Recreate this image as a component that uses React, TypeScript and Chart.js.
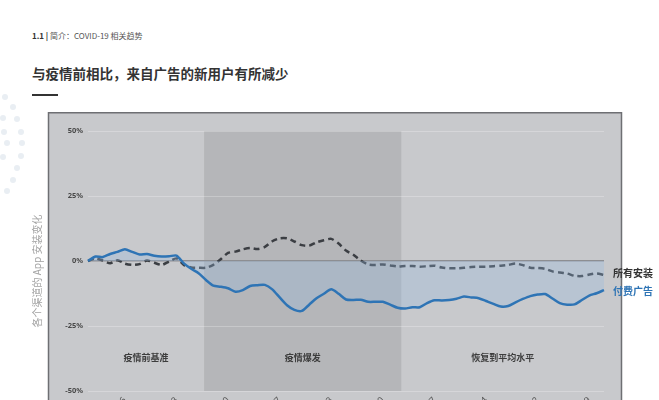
import { useEffect, useRef } from "react";
import Chart from "chart.js/auto";

// daily categories, ticks shown once a week
const categories = [
  "2020-01-01", "2020-01-02", "2020-01-03", "2020-01-04", "2020-01-05", "2020-01-06", "2020-01-07",
  "2020-01-08", "2020-01-09", "2020-01-10", "2020-01-11", "2020-01-12", "2020-01-13", "2020-01-14",
  "2020-01-15", "2020-01-16", "2020-01-17", "2020-01-18", "2020-01-19", "2020-01-20", "2020-01-21",
  "2020-01-22", "2020-01-23", "2020-01-24", "2020-01-25", "2020-01-26", "2020-01-27", "2020-01-28",
  "2020-01-29", "2020-01-30", "2020-01-31", "2020-02-01", "2020-02-02", "2020-02-03", "2020-02-04",
  "2020-02-05", "2020-02-06", "2020-02-07", "2020-02-08", "2020-02-09", "2020-02-10", "2020-02-11",
  "2020-02-12", "2020-02-13", "2020-02-14", "2020-02-15", "2020-02-16", "2020-02-17", "2020-02-18",
  "2020-02-19", "2020-02-20", "2020-02-21", "2020-02-22", "2020-02-23", "2020-02-24", "2020-02-25",
  "2020-02-26", "2020-02-27", "2020-02-28", "2020-02-29", "2020-03-01", "2020-03-02", "2020-03-03",
  "2020-03-04", "2020-03-05", "2020-03-06", "2020-03-07", "2020-03-08", "2020-03-09", "2020-03-10",
  "2020-03-11",
];
const tickLabels = [
  "2020-01-06", "2020-01-13", "2020-01-20", "2020-01-27", "2020-02-03",
  "2020-02-10", "2020-02-17", "2020-02-24", "2020-03-02", "2020-03-09",
];

const allInstalls = [
  0, 1.0, 0.2, -0.9, 0.3, -1.0, -1.5, -1.2, 0.2, -0.7,
  -1.5, -0.2, 1.0, -1.5, -2.5, -2.6, -2.6, -1.5, 0.7, 3.1,
  3.6, 4.5, 5.0, 4.6, 5.4, 7.6, 8.7, 8.7, 7.5, 6.1,
  5.9, 7.2, 8.0, 8.5, 6.7, 4.0, 2.4, 0.2, -1.3, -1.5,
  -1.3, -1.7, -2.1, -1.9, -1.9, -2.2, -2.0, -1.8, -2.5, -2.8,
  -2.8, -2.6, -2.3, -2.2, -2.2, -2.0, -1.8, -1.5, -1.0, -1.6,
  -2.6, -2.7, -3.0, -4.0, -4.4, -4.8, -5.7, -5.8, -5.2, -4.8,
  -5.4,
];
const paidAds = [
  0, 1.7, 1.5, 2.7, 3.5, 4.5, 3.5, 2.5, 2.7, 2.0,
  1.7, 1.8, 2.1, -0.9, -3.0, -4.7, -7.3, -9.5, -9.9, -10.5,
  -11.8, -11.2, -9.6, -9.3, -9.2, -10.9, -14.0, -17.0, -18.8, -19.2,
  -16.8, -14.3, -12.6, -10.9, -12.6, -14.8, -15.0, -14.9, -15.7, -15.7,
  -15.7, -16.8, -18.0, -18.3, -17.8, -17.8, -16.2, -15.1, -15.2, -15.0,
  -14.5, -13.7, -14.0, -14.3, -15.4, -16.5, -17.5, -17.3, -15.9, -14.6,
  -13.5, -12.9, -12.7, -14.4, -16.2, -16.8, -16.7, -15.0, -13.3, -12.4,
  -11.2,
];

const seriesNames = ["所有安装", "付费广告"];
const phaseNames = ["疫情前基准", "疫情爆发", "恢复到平均水平"];
// phase edges in category index units
const phaseEdges = [0, 15.75, 42.5, 70];
const phaseLabelValue = -37.3;
const yTitle = "各个渠道的 App 安装变化";

const BLUE = "#2e74b5";
const DARK = "#3b3e43";

const dots = [
  [5, 97], [13, 107], [3, 118], [17, 119], [4, 132], [21, 132], [7, 143],
  [22, 143], [3, 157], [21, 156], [17, 168], [13, 180], [7, 191],
];

const panelPlugin = {
  id: "panel",
  beforeDraw(chart: any) {
    const { ctx, chartArea, scales } = chart;
    const x = scales.x;
    ctx.save();
    ctx.fillStyle = "#c8c9cc";
    ctx.fillRect(48, 0, 574, chart.height);
    ctx.strokeStyle = "#6e6f73";
    ctx.lineWidth = 1.5;
    ctx.beginPath();
    ctx.moveTo(48.5, chart.height);
    ctx.lineTo(48.5, 0.75);
    ctx.lineTo(621.5, 0.75);
    ctx.lineTo(621.5, chart.height);
    ctx.stroke();

    // outbreak band
    const x0 = x.getPixelForValue(phaseEdges[1]);
    const x1 = x.getPixelForValue(phaseEdges[2]);
    ctx.fillStyle = "#b5b6b9";
    ctx.fillRect(x0, chartArea.top, x1 - x0, chartArea.bottom - chartArea.top);

    // y axis title sits outside the panel
    ctx.translate(37, (chartArea.top + chartArea.bottom) / 2 + 10);
    ctx.rotate(-Math.PI / 2);
    ctx.font = '10px "Noto Sans CJK SC"';
    ctx.fillStyle = "#a3a3a3";
    ctx.textAlign = "center";
    ctx.textBaseline = "middle";
    ctx.fillText(yTitle, 0, 0);
    ctx.restore();
  },
  afterDatasetsDraw(chart: any) {
    const { ctx, scales } = chart;
    const { x, y } = scales;
    ctx.save();
    ctx.textAlign = "center";
    ctx.textBaseline = "middle";
    ctx.font = 'bold 9px "Noto Sans CJK SC"';
    ctx.fillStyle = "#3d3d3d";
    phaseNames.forEach((name, i) => {
      const cx = (x.getPixelForValue(phaseEdges[i]) + x.getPixelForValue(phaseEdges[i + 1])) / 2;
      ctx.fillText(name, cx, y.getPixelForValue(phaseLabelValue));
    });

    // end-of-line labels
    ctx.textAlign = "left";
    ctx.font = 'bold 10px "Noto Sans CJK SC"';
    ctx.fillStyle = "#333";
    ctx.fillText(seriesNames[0], 613, y.getPixelForValue(allInstalls[allInstalls.length - 1]) - 2);
    ctx.fillStyle = BLUE;
    ctx.fillText(seriesNames[1], 613, y.getPixelForValue(paidAds[paidAds.length - 1]) + 1);
    ctx.restore();
  },
};

const TrendChart = () => {
  const chartRef = useRef<HTMLCanvasElement>(null);
  const chartInstanceRef = useRef<Chart | null>(null);

  useEffect(() => {
    if (!chartRef.current) return;
    const ctx = chartRef.current.getContext("2d");
    if (!ctx) return;
    if (chartInstanceRef.current) chartInstanceRef.current.destroy();

    chartInstanceRef.current = new Chart(ctx, {
      type: "line",
      data: {
        labels: categories,
        datasets: [
          {
            label: seriesNames[1],
            data: paidAds,
            borderColor: BLUE,
            borderWidth: 2.5,
            pointRadius: 0,
            tension: 0.25,
            fill: { target: "origin", above: "rgba(150,185,225,0.3)", below: "rgba(150,185,225,0.3)" },
          },
          {
            label: seriesNames[0],
            data: allInstalls,
            borderColor: DARK,
            borderWidth: 2.5,
            borderDash: [6, 4],
            pointRadius: 0,
            tension: 0.25,
            fill: false,
          },
        ],
      },
      options: {
        animation: false,
        responsive: true,
        maintainAspectRatio: false,
        layout: { padding: { top: 19, right: 55, bottom: 11, left: 0 } },
        scales: {
          x: {
            grid: { display: false },
            border: { display: false },
            ticks: {
              autoSkip: false,
              minRotation: 45,
              maxRotation: 45,
              padding: -4,
              color: "#555",
              font: { size: 9, family: '"Noto Sans", sans-serif' },
              callback: (_v, i) => (tickLabels.includes(categories[i]) ? categories[i] : ""),
            },
            afterFit: (scale) => {
              scale.height = 40;
            },
          },
          y: {
            min: -50,
            max: 50,
            border: { display: false },
            grid: {
              drawTicks: false,
              color: (c) => (c.tick && c.tick.value === 0 ? "#8d8e92" : "rgba(255,255,255,0.25)"),
              lineWidth: (c) => (c.tick && c.tick.value === 0 ? 1.5 : 1),
            },
            ticks: {
              stepSize: 25,
              padding: 5,
              color: "#4a4a4a",
              font: { size: 7.5, weight: "bold", family: '"Noto Sans", sans-serif' },
              callback: (v) => `${v}%`,
            },
            afterFit: (scale) => {
              scale.width = 88;
            },
          },
        },
        plugins: {
          legend: { display: false },
          tooltip: { enabled: false },
        },
      },
      plugins: [panelPlugin],
    });

    return () => {
      if (chartInstanceRef.current) {
        chartInstanceRef.current.destroy();
        chartInstanceRef.current = null;
      }
    };
  }, []);

  return (
    <div style={{ position: "absolute", left: 0, top: 112, width: 659, height: 330 }}>
      <canvas ref={chartRef} />
    </div>
  );
};

export default function App() {
  return (
    <div
      style={{
        position: "absolute",
        left: 0,
        top: 0,
        width: 659,
        height: 400,
        overflow: "hidden",
        background: "#fff",
        fontFamily: '"Noto Sans CJK SC", "Noto Sans", sans-serif',
      }}
    >
      {dots.map(([dx, dy], i) => (
        <div
          key={i}
          style={{
            position: "absolute",
            left: dx - 3,
            top: dy - 3,
            width: 6,
            height: 6,
            borderRadius: 3,
            background: "#e9eef3",
          }}
        />
      ))}
      <div style={{ position: "absolute", left: 32, top: 31, fontSize: 8, lineHeight: "10px", color: "#555" }}>
        <b style={{ color: "#333" }}>1.1</b> <b style={{ color: "#333" }}>|</b> 简介：COVID-19 相关趋势
      </div>
      <div
        style={{
          position: "absolute",
          left: 32,
          top: 64,
          fontSize: 13.5,
          lineHeight: "18px",
          fontWeight: "bold",
          color: "#333",
        }}
      >
        与疫情前相比，来自广告的新用户有所减少
      </div>
      <div style={{ position: "absolute", left: 32, top: 94, width: 26, height: 2, background: "#333" }} />
      <TrendChart />
    </div>
  );
}
